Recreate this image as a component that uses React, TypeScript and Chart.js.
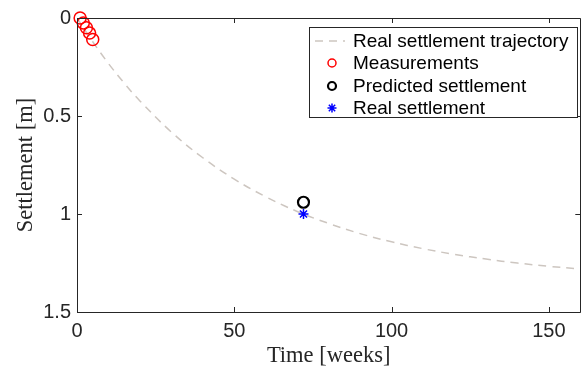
import React, { useEffect, useRef } from "react";
import { Chart, registerables } from "chart.js";
Chart.register(...registerables);

const trajT = [0, 5, 10, 15, 20, 30, 40, 50, 60, 70, 80, 90, 100, 110, 120, 130, 140, 150, 160];
const trajS = [0, 0.121, 0.232, 0.332, 0.423, 0.582, 0.713, 0.822, 0.912, 0.987, 1.048, 1.1, 1.142, 1.177, 1.206, 1.23, 1.25, 1.267, 1.28];
const measT = [1, 2, 3, 4, 5];
const measS = [0.0, 0.025, 0.05, 0.077, 0.11];
const predT = [72];
const predS = [0.94];
const realT = [72];
const realS = [1.0];
const xTicks = [0, 50, 100, 150];
const yTicks = [0, 0.5, 1, 1.5];
const legendLabels = ["Real settlement trajectory", "Measurements", "Predicted settlement", "Real settlement"];

const AXIS = "#262626";
const SANS = "'Liberation Sans', Arial, sans-serif";
const SERIF = "'Liberation Serif', 'Times New Roman', serif";

const boxPlugin = {
  id: "matlabBox",
  afterDatasetsDraw(chart: any) {
    const { ctx, chartArea: a, scales } = chart;
    ctx.save();
    ctx.strokeStyle = AXIS;
    ctx.lineWidth = 1;
    ctx.beginPath();
    ctx.rect(Math.round(a.left) + 0.5, Math.round(a.top) + 0.5, Math.round(a.right - a.left), Math.round(a.bottom - a.top));
    ctx.stroke();
    const tl = 5;
    ctx.beginPath();
    for (const v of xTicks) {
      const x = Math.round(scales.x.getPixelForValue(v)) + 0.5;
      ctx.moveTo(x, a.bottom);
      ctx.lineTo(x, a.bottom - tl);
      ctx.moveTo(x, a.top);
      ctx.lineTo(x, a.top + tl);
    }
    for (const v of yTicks) {
      const y = Math.round(scales.y.getPixelForValue(v)) + 0.5;
      ctx.moveTo(a.left, y);
      ctx.lineTo(a.left + tl, y);
      ctx.moveTo(a.right, y);
      ctx.lineTo(a.right - tl, y);
    }
    ctx.stroke();

    // legend
    const lx = 309.5, ly = 27.5, lw = 268, lh = 90;
    ctx.fillStyle = "#ffffff";
    ctx.fillRect(lx, ly, lw, lh);
    ctx.strokeStyle = AXIS;
    ctx.strokeRect(lx, ly, lw, lh);
    const rows = [41, 63, 86, 108];
    const sx = 332;
    ctx.font = "19px " + SANS;
    ctx.textBaseline = "middle";
    ctx.textAlign = "left";
    ctx.fillStyle = "#000";
    legendLabels.forEach((t, i) => ctx.fillText(t, 353, rows[i] + 1));
    // dashed line
    ctx.strokeStyle = "#cdc6c0";
    ctx.lineWidth = 1.5;
    ctx.setLineDash([8, 6]);
    ctx.beginPath();
    ctx.moveTo(315, rows[0]);
    ctx.lineTo(345, rows[0]);
    ctx.stroke();
    ctx.setLineDash([]);
    // red circle
    ctx.strokeStyle = "#ff0000";
    ctx.lineWidth = 1.5;
    ctx.beginPath();
    ctx.arc(sx, rows[1], 4, 0, Math.PI * 2);
    ctx.stroke();
    ctx.strokeStyle = "#000";
    ctx.lineWidth = 2.2;
    ctx.beginPath();
    ctx.arc(sx, rows[2], 4, 0, Math.PI * 2);
    ctx.stroke();
    // star
    ctx.strokeStyle = "#0000ff";
    ctx.lineWidth = 1.5;
    ctx.beginPath();
    const r = 4.5;
    for (let k = 0; k < 4; k++) {
      const ang = (k * Math.PI) / 4;
      ctx.moveTo(sx - r * Math.cos(ang), rows[3] - r * Math.sin(ang));
      ctx.lineTo(sx + r * Math.cos(ang), rows[3] + r * Math.sin(ang));
    }
    ctx.stroke();
    ctx.restore();
  },
};

export default function App() {
  const ref = useRef<HTMLCanvasElement>(null);
  useEffect(() => {
    document.body.style.margin = "0";
    const chart = new Chart(ref.current!, {
      type: "scatter",
      data: {
        datasets: [
          {
            type: "line",
            label: legendLabels[0],
            data: trajT.map((t, i) => ({ x: t, y: trajS[i] })),
            borderColor: "#cdc6c0",
            borderWidth: 1.5,
            borderDash: [8, 6],
            pointRadius: 0,
            fill: false,
            tension: 0.4,
            order: 4,
          } as any,
          {
            label: legendLabels[1],
            data: measT.map((t, i) => ({ x: t, y: measS[i] })),
            borderColor: "#ff0000",
            backgroundColor: "rgba(0,0,0,0)",
            borderWidth: 1.5,
            pointRadius: 6,
            clip: false,
            order: 1,
          },
          {
            label: legendLabels[2],
            data: predT.map((t, i) => ({ x: t, y: predS[i] })),
            borderColor: "#000000",
            backgroundColor: "rgba(0,0,0,0)",
            borderWidth: 2.2,
            pointRadius: 5.5,
            order: 2,
          },
          {
            label: legendLabels[3],
            data: realT.map((t, i) => ({ x: t, y: realS[i] })),
            borderColor: "#0000ff",
            backgroundColor: "#0000ff",
            borderWidth: 1.5,
            pointStyle: "star",
            pointRadius: 5,
            order: 3,
          },
        ],
      },
      options: {
        animation: false,
        responsive: false,
        layout: { padding: { top: 17, right: 5, left: 0, bottom: 0 } },
        plugins: { legend: { display: false }, tooltip: { enabled: false } },
        scales: {
          x: {
            type: "linear",
            min: 0,
            max: 160,
            grid: { display: false, drawTicks: false },
            border: { display: false },
            afterBuildTicks: (s: any) => {
              s.ticks = xTicks.map((v) => ({ value: v }));
            },
            ticks: {
              color: AXIS,
              padding: 7,
              maxRotation: 0,
              font: { family: SANS, size: 20 },
              callback: (v: any) => String(v),
            },
            title: {
              display: true,
              text: "Time [weeks]",
              color: AXIS,
              padding: { top: 0, bottom: 0 },
              font: { family: SERIF, size: 22.5 },
            },
            afterFit: (s: any) => {
              s.height = 58;
            },
          },
          y: {
            type: "linear",
            reverse: true,
            min: 0,
            max: 1.5,
            grid: { display: false, drawTicks: false },
            border: { display: false },
            afterBuildTicks: (s: any) => {
              s.ticks = yTicks.map((v) => ({ value: v }));
            },
            ticks: {
              color: AXIS,
              padding: 6,
              font: { family: SANS, size: 20 },
              callback: (v: any) => String(v),
            },
            title: {
              display: true,
              text: "Settlement [m]",
              color: AXIS,
              padding: { top: 13, bottom: 0 },
              font: { family: SERIF, size: 22.5 },
            },
            afterFit: (s: any) => {
              s.width = 77;
            },
          },
        },
      },
      plugins: [boxPlugin],
    } as any);
    return () => chart.destroy();
  }, []);
  return <canvas ref={ref} width={588} height={370} style={{ display: "block" }} />;
}
